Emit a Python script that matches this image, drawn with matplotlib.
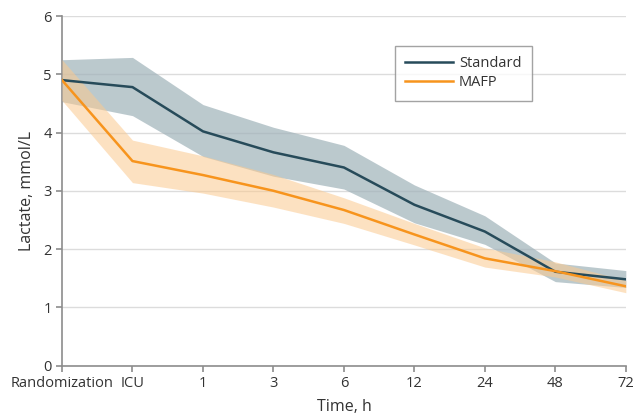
import matplotlib
matplotlib.use("Agg")
import matplotlib.pyplot as plt

plt.rcParams['font.family'] = ['Open Sans', 'DejaVu Sans']

categories = ["Randomization", "ICU", "1", "3", "6", "12", "24", "48", "72"]
std_mean = [4.90, 4.78, 4.02, 3.66, 3.40, 2.76, 2.30, 1.61, 1.48]
std_upper = [5.25, 5.29, 4.48, 4.09, 3.78, 3.10, 2.57, 1.76, 1.63]
std_lower = [4.53, 4.29, 3.59, 3.25, 3.03, 2.45, 2.08, 1.44, 1.34]
mafp_mean = [4.90, 3.51, 3.27, 3.00, 2.67, 2.25, 1.84, 1.62, 1.36]
mafp_upper = [5.25, 3.87, 3.60, 3.28, 2.88, 2.44, 2.02, 1.78, 1.46]
mafp_lower = [4.55, 3.14, 2.96, 2.72, 2.44, 2.07, 1.69, 1.52, 1.25]

fig = plt.figure(figsize=(6.36, 4.17), dpi=100)
ax = fig.add_axes([0.0975, 0.1235, 0.8865, 0.838])
x = list(range(len(categories)))

ax.fill_between(x, std_lower, std_upper, color="#9fb2b9", alpha=0.7, lw=0, zorder=2)
ax.fill_between(x, mafp_lower, mafp_upper, color="#fbc98f", alpha=0.55, lw=0, zorder=3)
ax.plot(x, std_mean, color="#274b5a", lw=1.8, label="Standard", zorder=4)
ax.plot(x, mafp_mean, color="#f7941d", lw=1.8, label="MAFP", zorder=5)

ax.set_xlim(0, len(categories) - 1)
ax.set_ylim(0, 6)
ax.set_yticks(range(0, 7))
ax.set_xticks(x)
ax.set_xticklabels(categories)
ax.grid(axis="y", color="#dcdcdc", lw=1, zorder=0)
ax.set_axisbelow(True)
for s in ["top", "right"]:
    ax.spines[s].set_visible(False)
for s in ["left", "bottom"]:
    ax.spines[s].set_color("#8c8c8c")
    ax.spines[s].set_linewidth(1.2)
ax.tick_params(colors="#8c8c8c", labelcolor="#333333", labelsize=10.5, length=4, width=1.2)

ax.set_ylabel("Lactate, mmol/L", fontsize=11.5, color="#333333", labelpad=6)
ax.set_xlabel("Time, h", fontsize=11.5, color="#333333", labelpad=6)

leg = ax.legend(loc="upper left", bbox_to_anchor=(0.59, 0.915), frameon=True, fancybox=False,
                fontsize=10.5, handlelength=3.3, handletextpad=0.4, borderpad=0.7,
                labelspacing=0.3, borderaxespad=0)
leg.get_frame().set_edgecolor("#8c8c8c")
leg.get_frame().set_linewidth(1)
for t in leg.get_texts():
    t.set_color("#333333")

fig.savefig("out.png", dpi=100)
